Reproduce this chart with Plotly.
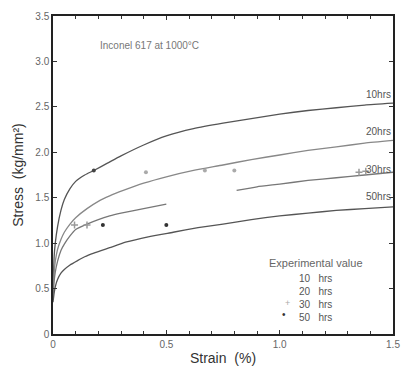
import plotly.graph_objects as go

# ---- data ----
strain_10 = [0, 0.005, 0.01, 0.02, 0.035, 0.05, 0.075, 0.1, 0.14, 0.18, 0.24, 0.3, 0.4, 0.5, 0.62, 0.75, 0.875, 1.0, 1.125, 1.25, 1.375, 1.5]
stress_10 = [0.45, 0.85, 1.0, 1.18, 1.36, 1.48, 1.6, 1.68, 1.75, 1.8, 1.88, 1.96, 2.08, 2.18, 2.26, 2.32, 2.37, 2.42, 2.46, 2.49, 2.52, 2.54]

strain_20 = [0, 0.005, 0.01, 0.02, 0.035, 0.05, 0.075, 0.1, 0.15, 0.2, 0.25, 0.31, 0.4, 0.5, 0.62, 0.75, 0.875, 1.0, 1.125, 1.25, 1.375, 1.5]
stress_20 = [0.45, 0.68, 0.8, 0.93, 1.04, 1.12, 1.21, 1.28, 1.38, 1.46, 1.52, 1.58, 1.66, 1.73, 1.8, 1.86, 1.92, 1.97, 2.02, 2.06, 2.10, 2.13]

strain_30 = [0, 0.005, 0.01, 0.02, 0.035, 0.05, 0.075, 0.1, 0.15, 0.2, 0.25, 0.3, 0.4, 0.5, None, 0.81, 0.9, 1.0, 1.125, 1.25, 1.375, 1.5]
stress_30 = [0.4, 0.58, 0.68, 0.8, 0.92, 0.99, 1.08, 1.15, 1.21, 1.26, 1.3, 1.33, 1.38, 1.43, None, 1.58, 1.62, 1.65, 1.69, 1.72, 1.75, 1.78]

strain_50 = [0, 0.005, 0.01, 0.02, 0.035, 0.05, 0.075, 0.11, 0.14, 0.18, 0.25, 0.32, 0.42, 0.53, 0.64, 0.75, 0.875, 1.0, 1.125, 1.25, 1.375, 1.5]
stress_50 = [0.35, 0.45, 0.52, 0.6, 0.67, 0.71, 0.76, 0.81, 0.85, 0.89, 0.95, 1.01, 1.07, 1.12, 1.17, 1.21, 1.26, 1.3, 1.33, 1.36, 1.38, 1.40]

exp10_x = [0.18]
exp10_y = [1.80]
exp20_x = [0.41, 0.67, 0.80]
exp20_y = [1.78, 1.80, 1.80]
exp30_x = [0.095, 0.15, 1.35, 1.38]
exp30_y = [1.20, 1.20, 1.78, 1.79]
exp50_x = [0.22, 0.50]
exp50_y = [1.20, 1.20]

curve_labels = ["10hrs", "20hrs", "30hrs", "50hrs"]
label_y = [2.64, 2.23, 1.81, 1.51]

x_tickvals = [0, 0.5, 1.0, 1.5]
x_ticktext = ["0", "0.5", "1.0", "1.5"]
y_tickvals = [0, 0.5, 1.0, 1.5, 2.0, 2.5, 3.0, 3.5]
y_ticktext = ["0", "0.5", "1.0", "1.5", "2.0", "2.5", "3.0", "3.5"]

legend_title = "Experimental value"
legend_rows = ["10   hrs", "20   hrs", "30   hrs", "50   hrs"]

FONT = "Liberation Sans"
fig = go.Figure()

curve_colors = ["#555", "#888", "#777", "#555"]
for xs, ys, c in [(strain_10, stress_10, curve_colors[0]), (strain_20, stress_20, curve_colors[1]),
                  (strain_30, stress_30, curve_colors[2]), (strain_50, stress_50, curve_colors[3])]:
    fig.add_trace(go.Scatter(x=xs, y=ys, mode="lines", line=dict(color=c, width=1.3, shape="spline", smoothing=0.5),
                             connectgaps=False, showlegend=False, hoverinfo="skip"))

fig.add_trace(go.Scatter(x=exp10_x, y=exp10_y, mode="markers", marker=dict(color="#444", size=4), showlegend=False))
fig.add_trace(go.Scatter(x=exp20_x, y=exp20_y, mode="markers", marker=dict(color="#aaa", size=4), showlegend=False))
fig.add_trace(go.Scatter(x=exp30_x, y=exp30_y, mode="markers", marker=dict(color="#999", size=5, symbol="cross-thin", line=dict(color="#999", width=1.5)), showlegend=False))
fig.add_trace(go.Scatter(x=exp50_x, y=exp50_y, mode="markers", marker=dict(color="#333", size=4), showlegend=False))

for t, yv in zip(curve_labels, label_y):
    fig.add_annotation(x=1.5, y=yv, xref="x", yref="y", text=t, showarrow=False, xanchor="right",
                       font=dict(family=FONT, size=10, color="#555"))

fig.add_annotation(x=0.2, y=3.17, xref="x", yref="y", text="Inconel 617 at 1000°C", showarrow=False,
                   xanchor="left", font=dict(family=FONT, size=10, color="#777"))

fig.add_annotation(x=0.945, y=0.78, xref="x", yref="y", text=legend_title, showarrow=False, xanchor="left",
                   font=dict(family=FONT, size=11, color="#666"))
fig.add_annotation(x=1.075, y=0.40, xref="x", yref="y", text="<br>".join(legend_rows), showarrow=False,
                   xanchor="left", yanchor="middle", align="left",
                   font=dict(family=FONT, size=10, color="#555"))
fig.add_annotation(x=1.035, y=0.34, xref="x", yref="y", text="+", showarrow=False,
                   font=dict(family=FONT, size=9, color="#aaa"))
fig.add_annotation(x=1.02, y=0.21, xref="x", yref="y", text="•", showarrow=False,
                   font=dict(family=FONT, size=10, color="#333"))

axis_common = dict(showline=True, linecolor="#222", linewidth=1.5, mirror="ticks", ticks="inside",
                   ticklen=4, tickcolor="#333", showgrid=False, zeroline=False,
                   tickfont=dict(family=FONT, size=10, color="#666"))

fig.update_xaxes(range=[0, 1.5], tickvals=x_tickvals, ticktext=x_ticktext,
                 minor=dict(dtick=0.1, ticks="inside", ticklen=3, tickcolor="#333"),
                 title=dict(text="Strain  (%)", font=dict(family=FONT, size=14, color="#333"), standoff=4),
                 **axis_common)
fig.update_yaxes(range=[0, 3.5], tickvals=y_tickvals, ticktext=y_ticktext,
                 title=dict(text="Stress  (kg/mm²)", font=dict(family=FONT, size=14, color="#333"), standoff=8),
                 **axis_common)

fig.update_layout(width=406, height=376, margin=dict(l=53, r=6, t=16, b=42),
                  plot_bgcolor="white", paper_bgcolor="white", showlegend=False)

fig.write_html("out.html")
